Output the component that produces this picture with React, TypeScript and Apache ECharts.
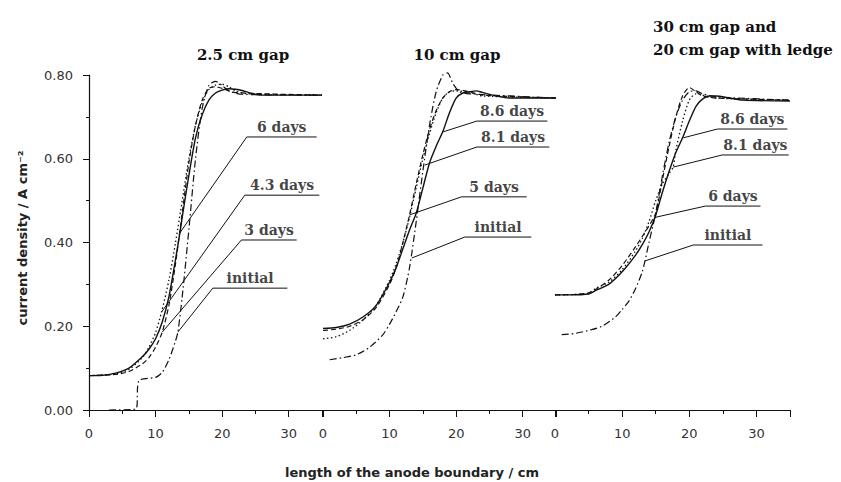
import React, { useEffect, useRef } from "react";
import * as echarts from "echarts";

// ---------- data (x: length along anode boundary / cm, y: current density / A cm^-2) ----------
// Panel 1: 2.5 cm gap
const p1SixDays = [[0,0.082],[2,0.083],[4,0.088],[6,0.1],[8,0.127],[9,0.145],[10,0.17],[11,0.21],[12,0.27],[13,0.36],[13.65,0.423],[14,0.46],[15,0.56],[16,0.65],[17,0.705],[18,0.74],[19,0.757],[20,0.764],[21,0.767],[22,0.766],[23,0.763],[24,0.758],[25,0.754],[26,0.752],[35,0.752]];
const p1FourDays = [[0,0.082],[4,0.086],[6,0.097],[8,0.125],[9,0.15],[10,0.185],[10.9,0.234],[12,0.31],[13,0.4],[14,0.5],[15,0.6],[16,0.68],[17,0.735],[18,0.765],[19,0.776],[20,0.778],[21,0.772],[22,0.762],[24,0.755],[35,0.752]];
const p1ThreeDays = [[0,0.082],[4,0.085],[6,0.092],[8,0.11],[9,0.125],[10,0.15],[11,0.186],[12,0.25],[13,0.35],[14,0.47],[15,0.59],[16,0.68],[17,0.74],[18,0.768],[19,0.772],[20,0.768],[22,0.758],[35,0.752]];
const p1Initial = [[3,0],[7,0.002],[7.5,0.07],[10,0.078],[11,0.09],[12,0.12],[13,0.165],[13.35,0.186],[14,0.27],[15,0.43],[16,0.6],[17,0.72],[18,0.775],[19,0.785],[20,0.775],[21,0.762],[23,0.754],[35,0.752]];
const p1Names = ["6 days", "4.3 days", "3 days", "initial"];
const p1Targets = [[13.65,0.423],[10.9,0.234],[11,0.186],[13.35,0.186]];
const p1LabelY = [0.652, 0.513, 0.406, 0.291];
const p1LabelX = [[23.7,34.2],[23.4,34.6],[22.9,31.2],[18.6,29.8]];

// Panel 2: 10 cm gap
const p2EightSix = [[0,0.195],[2,0.197],[4,0.205],[6,0.222],[8,0.25],[10,0.305],[11,0.34],[12,0.385],[13,0.43],[14,0.47],[15,0.53],[16,0.59],[17,0.63],[18,0.665],[19,0.71],[20,0.745],[21,0.757],[22,0.76],[23,0.762],[24,0.758],[26,0.75],[28,0.745],[35,0.745]];
const p2EightOne = [[0,0.17],[2,0.175],[4,0.19],[6,0.215],[8,0.25],[10,0.31],[11,0.35],[12,0.4],[13,0.46],[14,0.53],[15,0.6],[16,0.66],[17,0.71],[18,0.745],[19,0.76],[20,0.762],[22,0.758],[24,0.75],[35,0.745]];
const p2FiveDays = [[0,0.19],[2,0.193],[4,0.2],[6,0.215],[8,0.245],[10,0.3],[11,0.34],[12,0.4],[13,0.466],[14,0.54],[15,0.61],[16,0.67],[17,0.715],[18,0.745],[19,0.76],[20,0.765],[22,0.76],[24,0.752],[35,0.745]];
const p2Initial = [[1,0.12],[3,0.125],[5,0.132],[7,0.15],[9,0.18],[10,0.205],[11,0.235],[12,0.27],[13,0.34],[14,0.45],[15,0.57],[16,0.68],[17,0.76],[18,0.8],[18.7,0.805],[19.5,0.78],[20.5,0.76],[22,0.755],[35,0.745]];
const p2Names = ["8.6 days", "8.1 days", "5 days", "initial"];
const p2Targets = [[18.0,0.664],[15.3,0.585],[13.0,0.466],[13.35,0.363]];
const p2LabelY = [0.69, 0.628, 0.509, 0.413];
const p2LabelX = [[23.1,33.7],[23.1,34.0],[20.8,30.6],[21.3,31.3]];

// Panel 3: 30 cm gap and 20 cm gap with ledge
const p3EightSix = [[0,0.275],[2,0.275],[5,0.277],[6,0.285],[8,0.3],[10,0.33],[12,0.37],[13,0.395],[14,0.425],[15,0.465],[16,0.52],[17,0.57],[18,0.615],[19,0.65],[20,0.69],[21,0.725],[22,0.743],[23,0.75],[24,0.75],[26,0.745],[28,0.74],[35,0.738]];
const p3EightOne = [[0,0.275],[5,0.278],[6,0.29],[8,0.305],[10,0.335],[12,0.38],[13,0.41],[14,0.45],[15,0.5],[16,0.54],[17,0.565],[17.6,0.58],[18,0.62],[19,0.69],[20,0.74],[21,0.755],[22,0.752],[24,0.745],[35,0.74]];
const p3SixDays = [[0,0.275],[5,0.28],[8,0.31],[10,0.345],[12,0.39],[14,0.44],[15,0.47],[16,0.55],[17,0.63],[18,0.7],[19,0.75],[20,0.77],[21,0.76],[22,0.75],[24,0.745],[35,0.74]];
const p3Initial = [[1,0.18],[3,0.183],[5,0.19],[7,0.2],[9,0.222],[10,0.24],[11,0.26],[12,0.29],[13,0.33],[13.4,0.356],[14,0.4],[15,0.47],[16,0.56],[17,0.64],[18,0.7],[19,0.74],[20,0.76],[21,0.762],[22,0.755],[24,0.748],[35,0.74]];
const p3Names = ["8.6 days", "8.1 days", "6 days", "initial"];
const p3Targets = [[19.1,0.65],[17.6,0.58],[14.9,0.46],[13.4,0.356]];
const p3LabelY = [0.671, 0.609, 0.487, 0.394];
const p3LabelX = [[24.2,34.6],[24.9,34.8],[22.4,30.6],[20.6,30.9]];

const panelTitles = ["2.5 cm gap", "10 cm gap", "30 cm gap and\n20 cm gap with ledge"];
const yTicks = [0, 0.2, 0.4, 0.6, 0.8];
const xTicks = [0, 10, 20, 30];

const INK = "#111";
const curveStyles = [
  { type: "solid", width: 1.4 },
  { type: [1.5, 2.5], width: 1.3 },
  { type: [5, 3], width: 1.2 },
  { type: [7, 3, 1.5, 3], width: 1.2 },
];

export default function App() {
  const ref = useRef<HTMLDivElement>(null);
  useEffect(() => {
    if (!ref.current) return;
    const chart = echarts.init(ref.current, null, { renderer: "svg" });
    const panels = [
      { curves: [p1SixDays, p1FourDays, p1ThreeDays, p1Initial], names: p1Names, targets: p1Targets, ly: p1LabelY, lx: p1LabelX },
      { curves: [p2EightSix, p2EightOne, p2FiveDays, p2Initial], names: p2Names, targets: p2Targets, ly: p2LabelY, lx: p2LabelX },
      { curves: [p3EightSix, p3EightOne, p3SixDays, p3Initial], names: p3Names, targets: p3Targets, ly: p3LabelY, lx: p3LabelX },
    ];
    const grids = [
      { left: 89, top: 75, width: 233, height: 335 },
      { left: 323, top: 75, width: 233, height: 335 },
      { left: 555, top: 75, width: 235, height: 335 },
    ];
    const tickFont = { fontFamily: "DejaVu Sans", fontSize: 13, color: "#333" };
    const xAxis = grids.map((_, i) => ({
      type: "value", gridIndex: i, min: 0, max: 35, interval: 10,
      axisLine: { show: true, lineStyle: { color: INK, width: 1.2 } },
      axisTick: { show: true, length: 7, inside: false, lineStyle: { color: INK } },
      minorTick: { show: true, splitNumber: 2, length: 4, lineStyle: { color: INK } },
      axisLabel: { ...tickFont, margin: 17, showMaxLabel: false,
        formatter: (v: number) => (xTicks.includes(v) ? String(v) : "") },
      splitLine: { show: false },
    }));
    const yAxis = grids.map((_, i) => ({
      type: "value", gridIndex: i, min: 0, max: 0.8, interval: 0.2, show: i === 0,
      axisLine: { show: true, lineStyle: { color: INK, width: 1.2 } },
      axisTick: { show: true, length: 6, lineStyle: { color: INK } },
      minorTick: { show: true, splitNumber: 2, length: 3, lineStyle: { color: INK } },
      axisLabel: { ...tickFont, margin: 16,
        formatter: (v: number) => (yTicks.some((t) => Math.abs(t - v) < 1e-9) ? v.toFixed(2) : "") },
      splitLine: { show: false },
    }));
    const series: any[] = [];
    panels.forEach((p, gi) => {
      p.curves.forEach((c, ci) => {
        series.push({
          type: "line", xAxisIndex: gi, yAxisIndex: gi, data: c, symbol: "none",
          smooth: 0.25, clip: false, silent: true,
          lineStyle: { color: INK, ...curveStyles[ci] },
        });
      });
      p.names.forEach((name, li) => {
        series.push({
          type: "line", xAxisIndex: gi, yAxisIndex: gi, symbol: "none", clip: false, silent: true,
          data: [p.targets[li], [p.lx[li][0], p.ly[li]], [p.lx[li][1], p.ly[li]]],
          lineStyle: { color: INK, width: 1 },
        });
      });
      series.push({
        type: "scatter", xAxisIndex: gi, yAxisIndex: gi, symbolSize: 0, clip: false, silent: true,
        data: p.names.map((name, li) => ({ name, value: [(p.lx[li][0] + p.lx[li][1]) / 2, p.ly[li]] })),
        label: {
          show: true, position: "top", distance: 3, formatter: "{b}",
          fontFamily: "DejaVu Serif", fontWeight: "bold", fontSize: 14, color: INK,
        },
      });
    });
    const titleFont = { fontFamily: "DejaVu Serif", fontWeight: "bold", fontSize: 15, fill: INK };
    chart.setOption({
      animation: false,
      backgroundColor: "#fff",
      grid: grids,
      xAxis,
      yAxis,
      series,
      graphic: [
        { type: "text", x: 243, y: 55, style: { text: panelTitles[0], ...titleFont, align: "center", verticalAlign: "middle" } },
        { type: "text", x: 457, y: 55, style: { text: panelTitles[1], ...titleFont, align: "center", verticalAlign: "middle" } },
        { type: "text", x: 653, y: 38, style: { text: panelTitles[2], ...titleFont, align: "left", verticalAlign: "middle", lineHeight: 23 } },
        { type: "text", x: 412, y: 472, style: { text: "length of the anode boundary / cm", fontFamily: "DejaVu Sans", fontWeight: "bold", fontSize: 13, fill: "#222", align: "center", verticalAlign: "middle" } },
        { type: "text", x: 22, y: 238, rotation: Math.PI / 2, style: { text: "current density / A cm\u207B\u00B2", fontFamily: "DejaVu Sans", fontWeight: "bold", fontSize: 13, fill: "#222", align: "center", verticalAlign: "middle" } },
      ],
    });
    return () => chart.dispose();
  }, []);
  return <div ref={ref} style={{ position: "fixed", left: 0, top: 0, width: 841, height: 482 }} />;
}
